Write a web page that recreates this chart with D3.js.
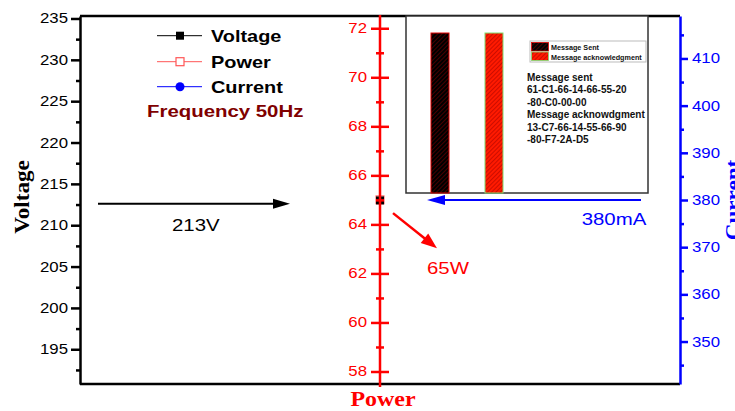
<!DOCTYPE html>
<html><head><meta charset="utf-8">
<script src="https://cdn.jsdelivr.net/npm/d3@7"></script>
<style>body{margin:0;background:#fff}svg{display:block}</style>
</head><body><svg id="c" width="735" height="411" font-family="'Liberation Sans',Arial,sans-serif"></svg>
<script>
const categories = ["Reading"];
const voltage = [213];
const power = [65];
const current = [380];
const voltageTicks = [195,200,205,210,215,220,225,230,235];
const voltageMinor = [192.5,197.5,202.5,207.5,212.5,217.5,222.5,227.5,232.5];
const powerTicks = [58,60,62,64,66,68,70,72];
const powerMinor = [59,61,63,65,67,69,71];
const currentTicks = [350,360,370,380,390,400,410];
const currentMinor = [345,355,365,375,385,395,405,415];
const seriesNames = ["Voltage","Power","Current"];
const frequencyLabel = "Frequency 50Hz";
const messages = ["Message Sent","Message acknowledgment"];
const messageBytes = [11, 11];
const messageLines = ["Message sent","61-C1-66-14-66-55-20","-80-C0-00-00","Message acknowdgment","13-C7-66-14-55-66-90","-80-F7-2A-D5"];
const annotations = ["213V","65W","380mA"];

const SANS = "'Liberation Sans',Arial,sans-serif";
const SERIF = "'Liberation Serif','Times New Roman',serif";
const svg = d3.select("#c");
const L=80,R=680,T=16,B=384;
const x = d3.scalePoint().domain(categories).range([L,R]).padding(0.5);
const ax = d3.scaleLinear().domain([0,1]).range([L,R]);
const yV = d3.scaleLinear().domain([190.8,235.3]).range([B,T]);
const yP = d3.scaleLinear().domain([57.49,72.5]).range([B,T]);
const yC = d3.scaleLinear().domain([341,419]).range([B,T]);
const RED="#ff0000", BLUE="#0000ff";

// patterns
const defs = svg.append("defs");
function hatch(id, bg, fg){
  const p = defs.append("pattern").attr("id",id).attr("patternUnits","userSpaceOnUse")
    .attr("width",3).attr("height",3).attr("patternTransform","rotate(45)");
  p.append("rect").attr("width",3).attr("height",3).attr("fill",bg);
  p.append("line").attr("x1",0).attr("y1",0).attr("x2",0).attr("y2",3).attr("stroke",fg).attr("stroke-width",1);
}
hatch("hBlack","#000","#8b0000");
hatch("hRed","#ff1a00","#9a0000");

// frame
svg.append("line").attr("x1",L).attr("x2",R).attr("y1",T).attr("y2",T).attr("stroke","#000").attr("stroke-width",2.5);
svg.append("line").attr("x1",L).attr("x2",R).attr("y1",B).attr("y2",B).attr("stroke","#000").attr("stroke-width",2.5);

// inset
const iy = d3.scaleLinear().domain([0,12.17]).range([193,T]);
const ib = d3.scaleBand().domain(messages).range([413,521]).paddingInner(2/3).paddingOuter(1/3);
svg.append("rect").attr("x",406).attr("y",T).attr("width",242).attr("height",177).attr("fill","#fff").attr("stroke","#333").attr("stroke-width",1.5);
const fills = ["url(#hBlack)","url(#hRed)"], strokes=["#e00000","#7fdc6f"];
svg.selectAll(".bar").data(messages).join("rect").attr("class","bar")
  .attr("x",d=>ib(d)).attr("width",ib.bandwidth())
  .attr("y",(d,i)=>iy(messageBytes[i])).attr("height",(d,i)=>iy(0)-iy(messageBytes[i]))
  .attr("fill",(d,i)=>fills[i]).attr("stroke",(d,i)=>strokes[i]).attr("stroke-width",1);
svg.append("rect").attr("x",530).attr("y",41).attr("width",116).attr("height",21).attr("fill","#fff").attr("stroke","#bbb").attr("stroke-width",1);
messages.forEach((m,i)=>{
  svg.append("rect").attr("x",531.5).attr("y",42.5+i*9.5).attr("width",17).attr("height",8.5)
    .attr("fill",fills[i]).attr("stroke",strokes[i]).attr("stroke-width",0.8);
  svg.append("text").attr("x",551).attr("y",50+i*9.5).attr("font-size",7.2).attr("font-weight","bold").attr("fill","#111").text(m);
});
messageLines.forEach((t,i)=>{
  svg.append("text").attr("x",527).attr("y",81+i*12.4).attr("font-size",10).attr("font-weight","bold").attr("fill","#111").text(t);
});

function stretch(sel, s){
  sel.selectAll("text").attr("font-size",14).attr("font-family",SANS)
    .attr("x",function(){return (+this.getAttribute("x"))/s;}).attr("transform",`scale(${s},1)`);
}
// left axis
const gL = svg.append("g").attr("transform",`translate(${L},0)`);
gL.append("g").call(d3.axisLeft(yV).tickValues(voltageMinor).tickSize(4).tickSizeOuter(0).tickFormat(""))
  .call(g=>g.select(".domain").remove()).call(g=>g.selectAll("line").attr("stroke-width",2.5));
gL.append("g").call(d3.axisLeft(yV).tickValues(voltageTicks).tickSize(9).tickSizeOuter(0).tickPadding(3))
  .call(g=>g.select(".domain").attr("stroke-width",2.5)).call(g=>g.selectAll("line").attr("stroke-width",2.5))
  .call(g=>stretch(g,1.2)).call(g=>g.selectAll("text").attr("fill","#000"));

// right axis
const gR = svg.append("g").attr("transform",`translate(${R},0)`);
gR.append("g").call(d3.axisRight(yC).tickValues(currentMinor).tickSize(4).tickSizeOuter(0).tickFormat(""))
  .call(g=>g.select(".domain").remove()).call(g=>g.selectAll("line").attr("stroke",BLUE).attr("stroke-width",2.5));
gR.append("g").call(d3.axisRight(yC).tickValues(currentTicks).tickSize(8).tickSizeOuter(0).tickPadding(4))
  .call(g=>g.select(".domain").attr("stroke",BLUE).attr("stroke-width",2.5)).call(g=>g.selectAll("line").attr("stroke",BLUE).attr("stroke-width",2.5))
  .call(g=>stretch(g,1.2)).call(g=>g.selectAll("text").attr("fill",BLUE));

// legend
const legY=[35.7,61.7,86.7];
const legCol=["#000","#ff5555",BLUE];
seriesNames.forEach((n,i)=>{
  svg.append("line").attr("x1",157).attr("x2",202).attr("y1",legY[i]).attr("y2",legY[i]).attr("stroke",legCol[i]).attr("stroke-width",1);
  if(i===0) svg.append("rect").attr("x",176).attr("y",legY[i]-4).attr("width",8).attr("height",8).attr("fill","#000");
  if(i===1) svg.append("rect").attr("x",176).attr("y",legY[i]-4).attr("width",8).attr("height",8).attr("fill","#fff").attr("stroke","#ff5555").attr("stroke-width",1.2);
  if(i===2) svg.append("circle").attr("cx",180).attr("cy",legY[i]).attr("r",4.5).attr("fill",BLUE);
  svg.append("text").attr("transform",`translate(211,${legY[i]}) scale(1.17,1)`).attr("dy","0.36em")
    .attr("font-size",17).attr("font-weight","bold").attr("fill","#000").text(n);
});
svg.append("text").attr("transform","translate(147,117) scale(1.2,1)").attr("font-size",17).attr("font-weight","bold").attr("fill","#800000").text(frequencyLabel);

// arrows
function arrow(x1,y1,x2,y2,color,w,hl,hw){
  const a=Math.atan2(y2-y1,x2-x1), c=Math.cos(a), s=Math.sin(a);
  const bx=x2-hl*c, by=y2-hl*s;
  svg.append("line").attr("x1",x1).attr("y1",y1).attr("x2",bx+2*c).attr("y2",by+2*s).attr("stroke",color).attr("stroke-width",w);
  svg.append("path").attr("d",`M${x2},${y2}L${bx-hw*s},${by+hw*c}L${bx+hw*s},${by-hw*c}Z`).attr("fill",color);
}
const px = x(categories[0]);
arrow(ax(0.03), yV(voltage[0]-0.4), ax(0.35), yV(voltage[0]-0.4), "#000", 2, 17, 5);
svg.append("text").attr("transform",`translate(${ax(0.193)},${yV(voltage[0])+31}) scale(1.2,1)`).attr("text-anchor","middle").attr("font-size",17).attr("fill","#000").text(annotations[0]);
arrow(px+13, yP(power[0]-0.54), px+57, yP(power[0]-1.97), RED, 2.5, 16, 6);
svg.append("text").attr("transform",`translate(${px+68},${yP(power[0])+74}) scale(1.2,1)`).attr("text-anchor","middle").attr("font-size",17).attr("fill",RED).text(annotations[1]);
arrow(ax(0.935), yC(current[0]), px+47, yC(current[0]), BLUE, 2, 18, 5);
svg.append("text").attr("transform",`translate(${ax(0.89)},${yC(current[0])+25}) scale(1.2,1)`).attr("text-anchor","middle").attr("font-size",17).attr("fill",BLUE).text(annotations[2]);

// data markers
categories.forEach((c,i)=>{
  svg.append("circle").attr("cx",x(c)).attr("cy",yC(current[i])).attr("r",3.5).attr("fill",BLUE);
  svg.append("rect").attr("x",x(c)-4).attr("y",yP(power[i])-4).attr("width",8).attr("height",8).attr("fill","#fff").attr("stroke","#ff5555");
  svg.append("rect").attr("x",x(c)-4).attr("y",yV(voltage[i])-4).attr("width",8).attr("height",8).attr("fill","#000");
});

// power axis (middle)
const gP = svg.append("g").attr("transform",`translate(${px},0)`);
gP.append("line").attr("x1",0).attr("x2",0).attr("y1",T-1).attr("y2",B+3).attr("stroke",RED).attr("stroke-width",2.5);
gP.append("g").call(d3.axisLeft(yP).tickValues(powerMinor).tickSize(4).tickFormat("")).call(g=>g.select(".domain").remove()).call(g=>g.selectAll("line").attr("stroke",RED).attr("stroke-width",2.5));
gP.append("g").call(d3.axisRight(yP).tickValues(powerMinor).tickSize(4).tickFormat("")).call(g=>g.select(".domain").remove()).call(g=>g.selectAll("line").attr("stroke",RED).attr("stroke-width",2.5));
gP.append("g").call(d3.axisRight(yP).tickValues(powerTicks).tickSize(9).tickFormat("")).call(g=>g.select(".domain").remove()).call(g=>g.selectAll("line").attr("stroke",RED).attr("stroke-width",2.5));
gP.append("g").call(d3.axisLeft(yP).tickValues(powerTicks).tickSize(9).tickPadding(4))
  .call(g=>g.select(".domain").remove()).call(g=>g.selectAll("line").attr("stroke",RED).attr("stroke-width",2.5))
  .call(g=>stretch(g,1.2)).call(g=>g.selectAll("text").attr("fill",RED));

// axis titles
svg.append("text").attr("transform","translate(29,197) rotate(-90) scale(1.1,1)").attr("text-anchor","middle")
  .attr("font-family",SERIF).attr("font-size",21).attr("font-weight","bold").attr("fill","#000").text("Voltage");
svg.append("text").attr("transform",`translate(${px+3},406) scale(1.14,1)`).attr("text-anchor","middle")
  .attr("font-family",SERIF).attr("font-size",21).attr("font-weight","bold").attr("fill",RED).text("Power");
svg.append("text").attr("transform","translate(740,200) rotate(-90) scale(1.1,1)").attr("text-anchor","middle")
  .attr("font-family",SERIF).attr("font-size",21).attr("font-weight","bold").attr("fill",BLUE).text("Current");
</script></body></html>
